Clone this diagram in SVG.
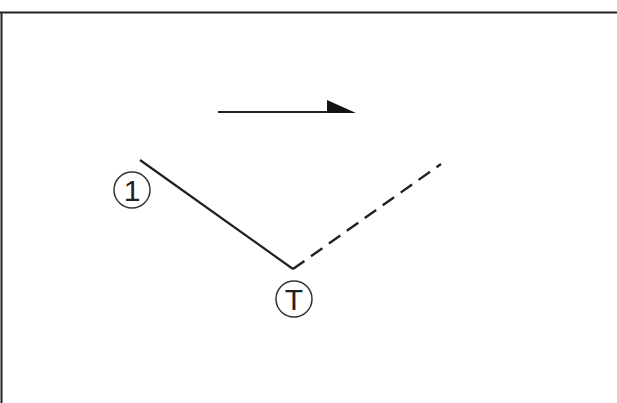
<svg xmlns="http://www.w3.org/2000/svg" width="617" height="403" viewBox="0 0 617 403">
<style>
.ln{stroke:#222;stroke-width:2.2;fill:none}
.dash{stroke:#222;stroke-width:2.4;fill:none;stroke-dasharray:14 8}
.circ{stroke:#333;stroke-width:1.5;fill:none}
.lbl{font-family:"Liberation Sans",Arial,sans-serif;font-size:30px;fill:#222;text-anchor:middle}
</style>
<rect width="617" height="403" fill="#fff"/>
<g id="frame">
<path d="M0,12.5 H617 M1.5,12 V403" stroke="#222" stroke-width="2" fill="none"/>
</g>
<g id="connectors">
<line class="ln" x1="218" y1="112" x2="340" y2="112"/>
<polygon points="327,100 327,113 356,113" fill="#111"/>
<line class="ln" x1="140" y1="160" x2="293" y2="269"/>
<line class="dash" x1="293" y1="269" x2="441" y2="164"/>
</g>
<g id="node-1">
<circle class="circ" cx="132" cy="190" r="18"/>
<text class="lbl" x="132" y="201">1</text>
</g>
<g id="node-T">
<circle class="circ" cx="294" cy="299" r="18"/>
<text class="lbl" x="294" y="310">T</text>
</g>
</svg>
